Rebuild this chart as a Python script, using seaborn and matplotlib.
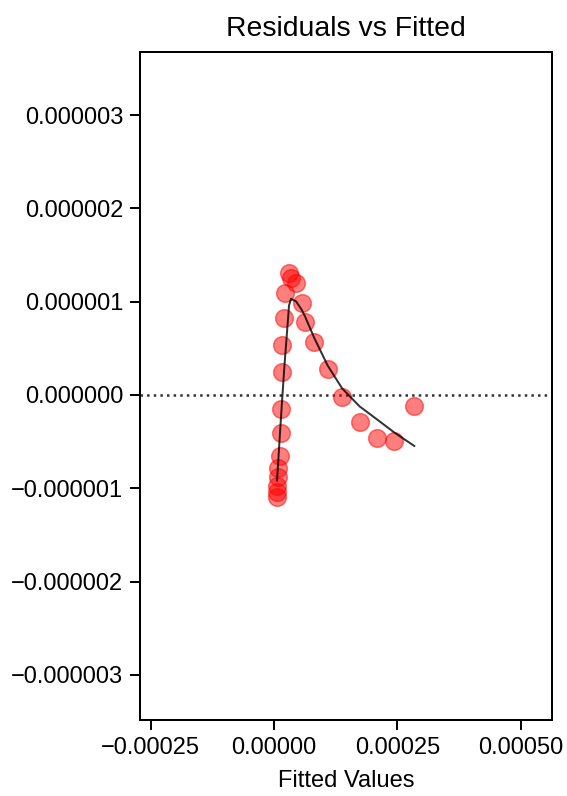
import numpy as np
import pandas as pd
import matplotlib
matplotlib.use("Agg")
import matplotlib.pyplot as plt
import seaborn as sns

# Fitted values and residuals of the model
fitted_values = [
    6.1e-6, 6.1e-6, 6.1e-6, 7.1e-6, 8.1e-6, 12.1e-6, 13.2e-6, 13.2e-6,
    16.2e-6, 16.2e-6, 19.2e-6, 21.3e-6, 30.4e-6, 34.4e-6, 44.5e-6, 55.7e-6,
    62.8e-6, 81.0e-6, 108.3e-6, 137.7e-6, 173.1e-6, 209.5e-6, 242.9e-6, 284.4e-6,
]
residuals = [
    -1.093e-6, -1.040e-6, -0.976e-6, -0.879e-6, -0.783e-6, -0.654e-6, -0.407e-6, -0.145e-6,
    0.247e-6, 0.536e-6, 0.825e-6, 1.093e-6, 1.308e-6, 1.254e-6, 1.195e-6, 0.986e-6,
    0.782e-6, 0.565e-6, 0.279e-6, -0.021e-6, -0.289e-6, -0.466e-6, -0.493e-6, -0.123e-6,
]

x_ticks = [-0.00025, 0.0, 0.00025, 0.0005]
y_ticks = [-3e-6, -2e-6, -1e-6, 0.0, 1e-6, 2e-6, 3e-6]


def lowess(x, y, frac=2 / 3, iters=3):
    """Locally weighted linear smoother with robustness iterations."""
    order = np.argsort(x, kind="mergesort")
    x = np.asarray(x, float)[order]
    y = np.asarray(y, float)[order]
    n = len(x)
    k = int(frac * n + 1e-10)
    robust = np.ones(n)
    smooth = np.zeros(n)
    for _ in range(iters + 1):
        for i in range(n):
            d = np.abs(x - x[i])
            h = np.sort(d)[k - 1]
            u = np.clip(d / h, 0, 1) if h > 0 else (d > 0).astype(float)
            w = (1 - u ** 3) ** 3 * robust
            sw = w.sum()
            xm = (w * x).sum() / sw
            ym = (w * y).sum() / sw
            var = (w * (x - xm) ** 2).sum()
            slope = (w * (x - xm) * (y - ym)).sum() / var if var > 0 else 0.0
            smooth[i] = ym + slope * (x[i] - xm)
        res = y - smooth
        s = np.median(np.abs(res))
        if s == 0:
            break
        u = np.clip(res / (6 * s), -1, 1)
        robust = (1 - u ** 2) ** 2
    return x, smooth


df = pd.DataFrame({"fitted": fitted_values, "resid": residuals})
lx, ly = lowess(df["fitted"].values, df["resid"].values)
smooth_df = pd.DataFrame({"fitted": lx, "resid": ly})

sns.set_style("ticks")
plt.rcParams["font.family"] = ["Liberation Sans", "DejaVu Sans"]
plt.rcParams.update({
    "axes.linewidth": 1.0,
    "axes.edgecolor": "black",
    "text.color": "black",
    "axes.labelcolor": "black",
    "xtick.color": "black",
    "ytick.color": "black",
    "xtick.major.size": 5,
    "ytick.major.size": 5,
    "xtick.major.width": 1.0,
    "ytick.major.width": 1.0,
})

fig = plt.figure(figsize=(567 / 144, 796 / 144), dpi=144)
ax = fig.add_axes([0.247, 0.0955, 0.7265, 0.8392])

sns.scatterplot(data=df, x="fitted", y="resid", ax=ax, color="red", alpha=0.5,
                s=78, edgecolor="red", linewidth=0.75, zorder=2)
ax.axhline(0, ls=":", c=".2", lw=1.25, zorder=1)
sns.lineplot(data=smooth_df, x="fitted", y="resid", ax=ax, color="black",
             alpha=0.8, lw=1.0, estimator=None, sort=True, zorder=3)

ax.set_xlim(-2.713e-4, 5.628e-4)
ax.set_ylim(-3.483e-6, 3.676e-6)
ax.set_xticks(x_ticks)
ax.set_yticks(y_ticks)
ax.ticklabel_format(style="plain", useOffset=False)
ax.tick_params(labelsize=11.8)

ax.set_title("Residuals vs Fitted", fontsize=14.2, pad=8)
ax.set_xlabel("Fitted Values", fontsize=11.8, labelpad=5.5)
ax.set_ylabel("")

fig.savefig("out.png", dpi=144)
